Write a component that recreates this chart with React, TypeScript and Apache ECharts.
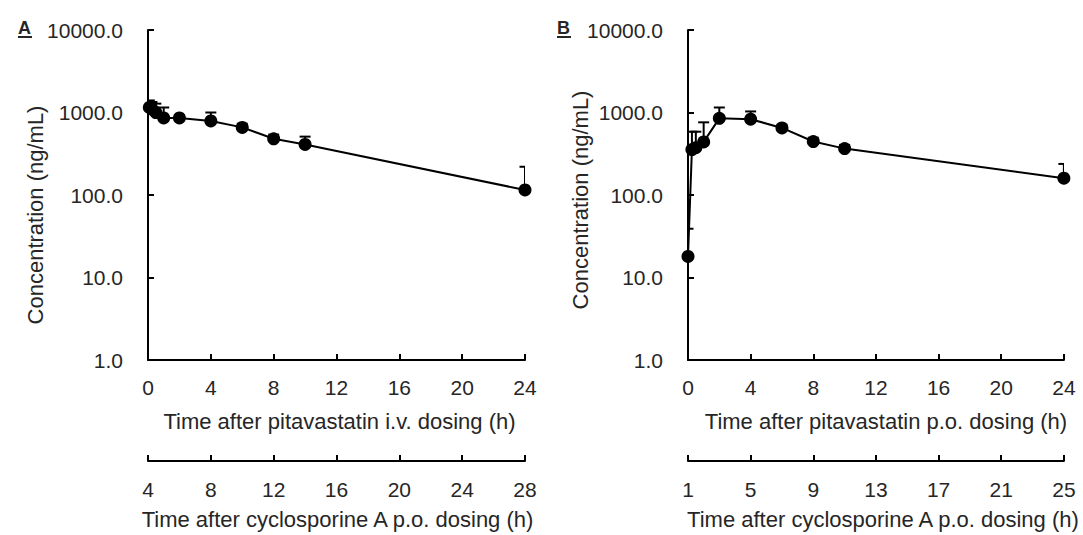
import React, { useEffect, useRef } from "react";
import * as echarts from "echarts";

// Pitavastatin plasma concentrations (mean with upper SD)
// Panel A: i.v. dosing
const timeA = [0.083, 0.25, 0.5, 1, 2, 4, 6, 8, 10, 24];
const concA = [1150, 1100, 1000, 860, 860, 790, 660, 480, 410, 115];
const sdA = [250, 240, 280, 290, 60, 210, 70, 60, 100, 105];

// Panel B: p.o. dosing
const timeB = [0, 0.25, 0.5, 1, 2, 4, 6, 8, 10, 24];
const concB = [18, 355, 375, 440, 850, 830, 650, 445, 365, 160];
const sdB = [21, 230, 210, 320, 300, 200, 60, 50, 40, 78];

// Hours between cyclosporine A and pitavastatin dosing (secondary axis shift)
const csaLeadA = 4;
const csaLeadB = 1;

const concTicks = [1, 10, 100, 1000, 10000];
const timeTicks = [0, 4, 8, 12, 16, 20, 24];

const FONT = "'Liberation Sans', Arial, sans-serif";
const TEXT = "#262626";
const FS = 21; // tick labels
const NFS = 22; // axis titles

function primaryX(gridIndex: number, title: string, shift: number) {
  return {
    type: "value",
    gridIndex,
    min: timeTicks[0],
    max: timeTicks[timeTicks.length - 1],
    interval: 4,
    axisLine: { lineStyle: { color: "#000", width: 2 } },
    axisTick: { inside: true, length: 6, lineStyle: { color: "#000", width: 2 } },
    axisLabel: { color: TEXT, fontSize: FS, margin: 17, fontFamily: FONT },
    splitLine: { show: false },
    name: title,
    nameLocation: "middle",
    nameGap: 50,
    nameTextStyle: { color: TEXT, fontSize: NFS, fontFamily: FONT, padding: [0, 0, 0, shift] },
  };
}

function secondaryX(gridIndex: number, lead: number, shift: number) {
  return {
    type: "value",
    gridIndex,
    position: "bottom",
    offset: 101,
    min: timeTicks[0],
    max: timeTicks[timeTicks.length - 1],
    interval: 4,
    axisLine: { onZero: false, lineStyle: { color: "#000", width: 2 } },
    axisTick: { inside: true, length: 6, lineStyle: { color: "#000", width: 2 } },
    axisLabel: {
      color: TEXT,
      fontSize: FS,
      margin: 18,
      fontFamily: FONT,
      formatter: (v: number) => String(v + lead),
    },
    splitLine: { show: false },
    name: "Time after cyclosporine A p.o. dosing (h)",
    nameLocation: "middle",
    nameGap: 47,
    nameTextStyle: { color: TEXT, fontSize: NFS, fontFamily: FONT, padding: [0, 0, 0, shift] },
  };
}

function concY(gridIndex: number) {
  return {
    type: "log",
    logBase: 10,
    gridIndex,
    min: concTicks[0],
    max: concTicks[concTicks.length - 1],
    axisLine: { show: true, lineStyle: { color: "#000", width: 2 } },
    axisTick: { show: true, inside: true, length: 6, lineStyle: { color: "#000", width: 2 } },
    axisLabel: {
      color: TEXT,
      fontSize: FS,
      margin: 25,
      fontFamily: FONT,
      formatter: (v: number) => Number(v).toFixed(1),
    },
    minorTick: { show: false },
    splitLine: { show: false },
  };
}

function meanSeries(idx: number, t: number[], c: number[]) {
  return {
    type: "line",
    xAxisIndex: idx,
    yAxisIndex: idx,
    data: t.map((x, i) => [x, c[i]]),
    symbol: "circle",
    symbolSize: 13,
    itemStyle: { color: "#000" },
    lineStyle: { color: "#000", width: 2 },
    z: 3,
  };
}

function sdSeries(idx: number, t: number[], c: number[], sd: number[]) {
  return {
    type: "custom",
    xAxisIndex: idx,
    yAxisIndex: idx,
    clip: true,
    data: t.map((x, i) => [x, c[i], c[i] + sd[i]]),
    encode: { x: 0, y: [1, 2] },
    z: 2,
    renderItem: (_params: any, api: any) => {
      const p0 = api.coord([api.value(0), api.value(1)]);
      const p1 = api.coord([api.value(0), api.value(2)]);
      const style = { stroke: "#000", lineWidth: 2 };
      return {
        type: "group",
        children: [
          { type: "line", shape: { x1: p0[0], y1: p0[1], x2: p1[0], y2: p1[1] }, style },
          { type: "line", shape: { x1: p1[0] - 5.5, y1: p1[1], x2: p1[0] + 5.5, y2: p1[1] }, style },
        ],
      };
    },
  };
}

function panelTag(label: string, x: number) {
  return [
    {
      type: "text",
      x,
      y: 19,
      style: { text: label, font: `bold 18px ${FONT}`, fill: TEXT },
    },
    {
      type: "line",
      shape: { x1: x, y1: 37, x2: x + 14, y2: 37 },
      style: { stroke: TEXT, lineWidth: 2 },
    },
  ];
}

function yTitle(x: number, y: number) {
  return {
    type: "text",
    x,
    y,
    rotation: Math.PI / 2,
    style: {
      text: "Concentration (ng/mL)",
      font: `${NFS}px ${FONT}`,
      fill: TEXT,
      align: "center",
      verticalAlign: "middle",
    },
  };
}

export default function App() {
  const ref = useRef<HTMLDivElement>(null);

  useEffect(() => {
    if (!ref.current) return;
    const chart = echarts.init(ref.current, null, { renderer: "svg" });
    chart.setOption({
      animation: false,
      backgroundColor: "#fff",
      textStyle: { fontFamily: FONT },
      grid: [
        { left: 148, right: 558, top: 30, bottom: 170 },
        { left: 688, right: 18, top: 30, bottom: 170 },
      ],
      xAxis: [
        primaryX(0, "Time after pitavastatin i.v. dosing (h)", 6),
        primaryX(1, "Time after pitavastatin p.o. dosing (h)", 20),
        secondaryX(0, csaLeadA, 2),
        secondaryX(1, csaLeadB, 14),
      ],
      yAxis: [concY(0), concY(1)],
      series: [
        sdSeries(0, timeA, concA, sdA),
        meanSeries(0, timeA, concA),
        sdSeries(1, timeB, concB, sdB),
        meanSeries(1, timeB, concB),
      ],
      graphic: [
        ...panelTag("A", 18),
        ...panelTag("B", 557),
        yTitle(35, 215),
        yTitle(580, 200),
      ],
    });
    return () => chart.dispose();
  }, []);

  return (
    <div
      ref={ref}
      style={{ position: "fixed", left: 0, top: 0, width: 1083, height: 535, background: "#fff" }}
    />
  );
}
